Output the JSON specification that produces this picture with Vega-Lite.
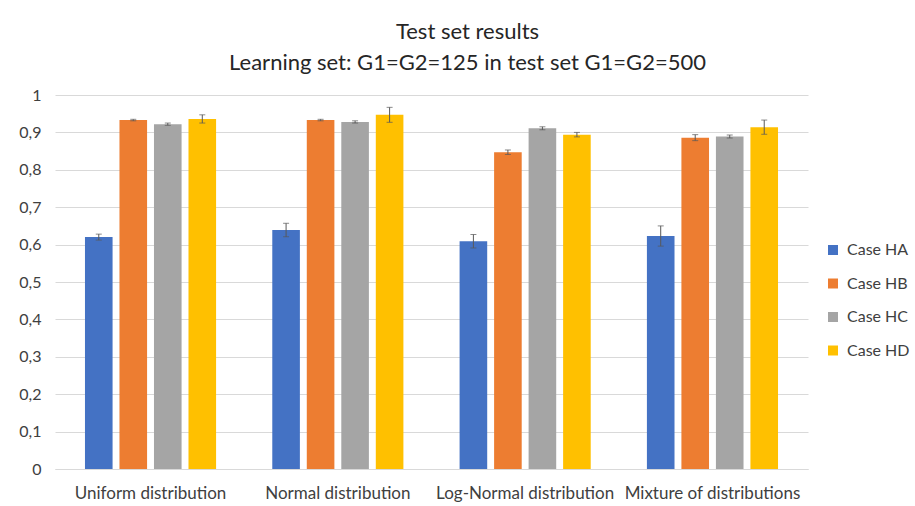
{
  "$schema": "https://vega.github.io/schema/vega-lite/v6.json",
  "width": 753,
  "height": 374,
  "autosize": "none",
  "padding": {"left": 55, "top": 95, "right": 107, "bottom": 37},
  "background": "white",
  "title": {
    "text": ["Test set results", "Learning set: G1=G2=125 in test set G1=G2=500"],
    "font": "Lato",
    "fontSize": 22,
    "fontWeight": "normal",
    "color": "#262626",
    "lineHeight": 31,
    "anchor": "middle",
    "dx": 36,
    "offset": 12
  },
  "config": {
    "view": {"stroke": null},
    "font": "Lato",
    "axis": {"labelFont": "Lato", "labelColor": "#404040"},
    "axisY": {"tickCount": 20, "labelOverlap": false},
    "legend": {"labelFont": "Lato"}
  },
  "data": {
    "values": [
      {"dist": "Uniform distribution", "case": "Case HA", "value": 0.620, "lo": 0.612, "hi": 0.628},
      {"dist": "Uniform distribution", "case": "Case HB", "value": 0.933, "lo": 0.931, "hi": 0.935},
      {"dist": "Uniform distribution", "case": "Case HC", "value": 0.922, "lo": 0.919, "hi": 0.925},
      {"dist": "Uniform distribution", "case": "Case HD", "value": 0.936, "lo": 0.925, "hi": 0.947},
      {"dist": "Normal distribution", "case": "Case HA", "value": 0.639, "lo": 0.621, "hi": 0.657},
      {"dist": "Normal distribution", "case": "Case HB", "value": 0.933, "lo": 0.931, "hi": 0.935},
      {"dist": "Normal distribution", "case": "Case HC", "value": 0.928, "lo": 0.925, "hi": 0.931},
      {"dist": "Normal distribution", "case": "Case HD", "value": 0.947, "lo": 0.927, "hi": 0.967},
      {"dist": "Log-Normal distribution", "case": "Case HA", "value": 0.609, "lo": 0.591, "hi": 0.627},
      {"dist": "Log-Normal distribution", "case": "Case HB", "value": 0.847, "lo": 0.841, "hi": 0.853},
      {"dist": "Log-Normal distribution", "case": "Case HC", "value": 0.911, "lo": 0.907, "hi": 0.915},
      {"dist": "Log-Normal distribution", "case": "Case HD", "value": 0.894, "lo": 0.888, "hi": 0.900},
      {"dist": "Mixture of distributions", "case": "Case HA", "value": 0.623, "lo": 0.596, "hi": 0.650},
      {"dist": "Mixture of distributions", "case": "Case HB", "value": 0.886, "lo": 0.878, "hi": 0.894},
      {"dist": "Mixture of distributions", "case": "Case HC", "value": 0.889, "lo": 0.885, "hi": 0.893},
      {"dist": "Mixture of distributions", "case": "Case HD", "value": 0.914, "lo": 0.895, "hi": 0.933}
    ]
  },
  "encoding": {
    "x": {
      "field": "dist",
      "type": "nominal",
      "sort": null,
      "scale": {"paddingInner": 0.3, "paddingOuter": 0.16},
      "axis": {
        "title": null,
        "labelAngle": 0,
        "labelFontSize": 17,
        "labelPadding": 16,
        "ticks": false,
        "domainColor": "#d9d9d9",
        "grid": false
      }
    },
    "xOffset": {
      "field": "case",
      "type": "nominal",
      "sort": null,
      "scale": {"paddingInner": 0.2, "paddingOuter": 0}
    }
  },
  "layer": [
    {
      "mark": {"type": "bar"},
      "encoding": {
        "y": {
          "field": "value",
          "type": "quantitative",
          "scale": {"domain": [0, 1], "nice": false},
          "axis": {
            "title": null,
            "values": [0, 0.1, 0.2, 0.3, 0.4, 0.5, 0.6, 0.7, 0.8, 0.9, 1],
            "tickCount": 20,
            "format": "~g",
            "labelExpr": "replace(datum.label, '.', ',')",
            "labelOverlap": false,
            "labelFontSize": 16,
            "labelPadding": 14,
            "domain": false,
            "ticks": false,
            "grid": true,
            "gridColor": "#d9d9d9",
            "gridWidth": 1
          }
        },
        "color": {
          "field": "case",
          "type": "nominal",
          "sort": null,
          "scale": {
            "domain": ["Case HA", "Case HB", "Case HC", "Case HD"],
            "range": ["#4472C4", "#ED7D31", "#A5A5A5", "#FFC000"]
          },
          "legend": {
            "title": null,
            "orient": "none",
            "legendX": 770,
            "legendY": 147,
            "symbolType": "square",
            "symbolSize": 100,
            "symbolStrokeWidth": 0,
            "labelFontSize": 16,
            "labelColor": "#404040",
            "rowPadding": 17.5,
            "labelOffset": 6
          }
        }
      }
    },
    {
      "mark": {"type": "rule", "color": "#595959", "strokeWidth": 1},
      "encoding": {
        "y": {"field": "lo", "type": "quantitative", "axis": {"title": null, "values": [0, 0.1, 0.2, 0.3, 0.4, 0.5, 0.6, 0.7, 0.8, 0.9, 1], "tickCount": 20}},
        "y2": {"field": "hi"}
      }
    },
    {
      "mark": {"type": "tick", "color": "#595959", "size": 6, "thickness": 1},
      "encoding": {
        "y": {"field": "lo", "type": "quantitative", "axis": {"title": null, "values": [0, 0.1, 0.2, 0.3, 0.4, 0.5, 0.6, 0.7, 0.8, 0.9, 1], "tickCount": 20}}
      }
    },
    {
      "mark": {"type": "tick", "color": "#595959", "size": 6, "thickness": 1},
      "encoding": {
        "y": {"field": "hi", "type": "quantitative", "axis": {"title": null, "values": [0, 0.1, 0.2, 0.3, 0.4, 0.5, 0.6, 0.7, 0.8, 0.9, 1], "tickCount": 20}}
      }
    }
  ]
}
